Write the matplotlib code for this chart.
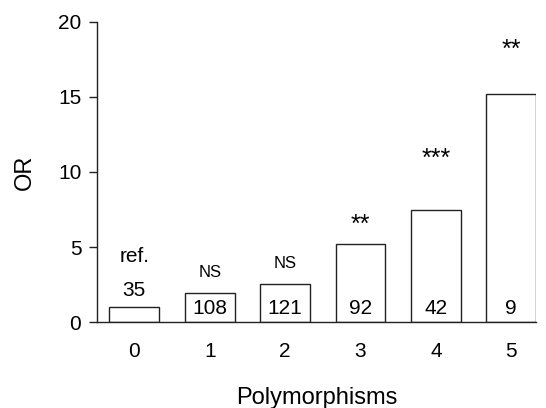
import matplotlib
matplotlib.use("Agg")
import matplotlib.pyplot as plt

plt.rcParams['font.family'] = ['Liberation Sans', 'DejaVu Sans']

# data
categories = [0, 1, 2, 3, 4, 5]
odds_ratio = [1.0, 1.95, 2.57, 5.23, 7.5, 15.2]
counts = ["35", "108", "121", "92", "42", "9"]
signif = ["ref.", "NS", "NS", "**", "***", "**"]
signif_y = [4.4, 3.3, 3.9, 6.5, 10.9, 18.1]

fig = plt.figure(figsize=(5.46, 4.08), dpi=100)
ax = fig.add_axes([0.177, 0.21, 0.805, 0.737])

ax.bar(categories, odds_ratio, width=0.66, color="white", edgecolor="#222222", linewidth=1.0)

for i, c in enumerate(categories):
    if i == 0:
        ax.text(c, odds_ratio[i] + 0.5, counts[i], ha="center", va="bottom", fontsize=15)
    else:
        ax.text(c, 0.95, counts[i], ha="center", va="center", fontsize=15)
    fs = 12 if signif[i] == "NS" else (15 if signif[i] == "ref." else 18)
    ax.text(c, signif_y[i], signif[i], ha="center", va="center", fontsize=fs)

ax.set_xlim(-0.5, 5.33)
ax.set_ylim(0, 20)
ax.set_yticks([0, 5, 10, 15, 20])
ax.set_xticks(categories)
ax.spines["top"].set_visible(False)
ax.spines["right"].set_visible(False)
for s in ["left", "bottom"]:
    ax.spines[s].set_color("#222222")
    ax.spines[s].set_linewidth(1.0)
ax.tick_params(axis="y", direction="out", length=6, width=1.0, pad=5, labelsize=15, color="#222222")
ax.tick_params(axis="x", length=0, pad=14, labelsize=15)

ax.set_xlabel("Polymorphisms", fontsize=17, labelpad=19)
ax.set_ylabel("OR", fontsize=17, labelpad=16)

fig.savefig("out.png", dpi=100)
